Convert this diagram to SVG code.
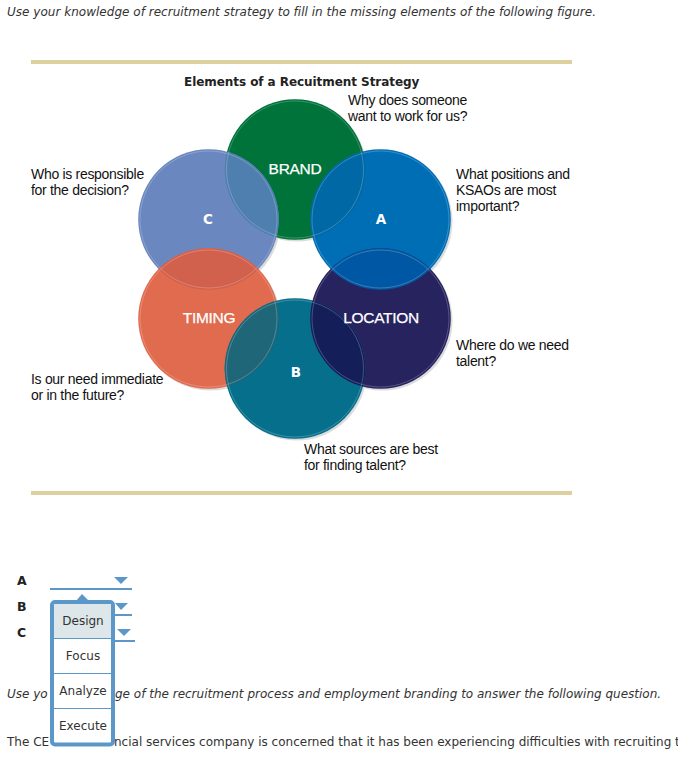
<svg xmlns="http://www.w3.org/2000/svg" width="678" height="759" viewBox="0 0 678 759">
<style>
.v{font-family:"DejaVu Sans",Verdana,sans-serif;font-size:12px;fill:#333}
.i{font-style:italic}
.q{font-family:"Liberation Sans",Arial,sans-serif;font-size:14px;fill:#111;letter-spacing:-.3px}
.n{font-family:"Liberation Sans",Arial,sans-serif;font-size:15.500px;fill:#fff;text-anchor:middle;letter-spacing:-.3px;stroke:#fff;stroke-width:.25px}
.l{font-family:"DejaVu Sans",Verdana,sans-serif;font-size:13.500px;font-weight:bold;fill:#fff;text-anchor:middle}
.k{font-family:"DejaVu Sans",Verdana,sans-serif;font-size:12.500px;font-weight:bold;fill:#222}
.h{font-family:"DejaVu Sans",Verdana,sans-serif;font-size:12px;font-weight:bold;fill:#222;letter-spacing:-.06px}
.o{font-family:"DejaVu Sans",Verdana,sans-serif;font-size:12px;fill:#333;text-anchor:middle}
.s{fill:#dcdcdc}
.e{fill:none;stroke:#fff;stroke-opacity:.22;stroke-width:1}
.r{fill:#ddd09f}
.d{stroke:#5b98c9;stroke-width:2;fill:none}
.t{fill:#5b98c9}
</style>
<defs>
<clipPath id="cb"><circle cx="295" cy="169.500" r="70.300"/></clipPath>
<clipPath id="cc"><circle cx="208.500" cy="219.500" r="70.300"/></clipPath>
<clipPath id="ca"><circle cx="380.500" cy="219.500" r="70.300"/></clipPath>
<clipPath id="ct"><circle cx="208.500" cy="318.500" r="70.300"/></clipPath>
<clipPath id="cl"><circle cx="380.500" cy="318.500" r="70.300"/></clipPath>
</defs>
<text class="v i" x="7" y="16" letter-spacing=".02">Use your knowledge of recruitment strategy to fill in the missing elements of the following figure.</text>
<rect class="r" x="31" y="60" width="541" height="4"/>
<rect class="r" x="31" y="491" width="541" height="4"/>
<text class="h" x="184" y="86">Elements of a Recuitment Strategy</text>

<g id="shadows">
<circle class="s" cx="297" cy="171.500" r="70"/><circle class="s" cx="210.500" cy="221.500" r="70"/><circle class="s" cx="382.500" cy="221.500" r="70"/>
<circle class="s" cx="210.500" cy="320.500" r="70"/><circle class="s" cx="382.500" cy="320.500" r="70"/><circle class="s" cx="297" cy="370.500" r="70"/>
</g>
<g id="node-brand"><circle cx="295" cy="169.500" r="70.300" fill="#00733a"/></g>
<g id="node-c"><circle cx="208.500" cy="219.500" r="70.300" fill="#6b87c0"/></g>
<g id="node-a"><circle cx="380.500" cy="219.500" r="70.300" fill="#006eb5"/></g>
<g id="node-timing"><circle cx="208.500" cy="318.500" r="70.300" fill="#e06b4f"/></g>
<g id="node-location"><circle cx="380.500" cy="318.500" r="70.300" fill="#27235f"/></g>
<g id="node-b"><circle cx="295" cy="368.500" r="70.300" fill="#066f8c"/></g>
<g id="overlaps">
<circle cx="208.500" cy="219.500" r="70.300" fill="#4f7fae" clip-path="url(#cb)"/>
<circle cx="380.500" cy="219.500" r="70.300" fill="#0068a5" clip-path="url(#cb)"/>
<circle cx="208.500" cy="318.500" r="70.300" fill="#d1604c" clip-path="url(#cc)"/>
<circle cx="380.500" cy="318.500" r="70.300" fill="#0057a3" clip-path="url(#ca)"/>
<circle cx="295" cy="368.500" r="70.300" fill="#1f6678" clip-path="url(#ct)"/>
<circle cx="295" cy="368.500" r="70.300" fill="#141f5a" clip-path="url(#cl)"/>
</g>
<g id="rims">
<circle class="e" cx="295" cy="169.500" r="68.500"/><circle class="e" cx="208.500" cy="219.500" r="68.500"/><circle class="e" cx="380.500" cy="219.500" r="68.500"/>
<circle class="e" cx="208.500" cy="318.500" r="68.500"/><circle class="e" cx="380.500" cy="318.500" r="68.500"/><circle class="e" cx="295" cy="368.500" r="68.500"/>
</g>
<g id="node-labels">
<text class="n" x="295" y="174">BRAND</text>
<text class="l" x="208" y="224">C</text>
<text class="l" x="381" y="224">A</text>
<text class="n" x="209" y="323">TIMING</text>
<text class="n" x="381" y="323">LOCATION</text>
<text class="l" x="296" y="377">B</text>
</g>
<g id="questions">
<text class="q" x="348" y="104.500">Why does someone</text><text class="q" x="348" y="120.500">want to work for us?</text>
<text class="q" x="31" y="179">Who is responsible</text><text class="q" x="31" y="195">for the decision?</text>
<text class="q" x="456" y="179">What positions and</text><text class="q" x="456" y="195">KSAOs are most</text><text class="q" x="456" y="211">important?</text>
<text class="q" x="456" y="349.500">Where do we need</text><text class="q" x="456" y="365.500">talent?</text>
<text class="q" x="31" y="384">Is our need immediate</text><text class="q" x="31" y="400">or in the future?</text>
<text class="q" x="304" y="453.500">What sources are best</text><text class="q" x="304" y="469.500">for finding talent?</text>
</g>

<text class="k" x="17" y="585">A</text><text class="k" x="17" y="610.500">B</text><text class="k" x="17" y="636.500">C</text>
<g id="dropdown-lines">
<line class="d" x1="50" y1="589" x2="132" y2="589"/><polygon class="t" points="114,577 128,577 121,584"/>
<line class="d" x1="112" y1="615" x2="132" y2="615"/><polygon class="t" points="115,603 128,603 121,610"/>
<line class="d" x1="112" y1="641" x2="135" y2="641"/><polygon class="t" points="117,629 131,629 124,636"/>
</g>
<text class="v i" x="7" y="698">Use yo</text>
<text class="v i" x="115" y="698">ge of the recruitment process and employment branding to answer the following question.</text>
<text class="v" x="7" y="746">The CE</text>
<text class="v" x="114" y="746">ncial services company is concerned that it has been experiencing difficulties with recruiting t</text>
<g id="menu">
<polygon class="t" points="76,601 82,594 89,601"/>
<rect x="52" y="602" width="61" height="142.500" rx="3" fill="#fff" stroke="#5b98c9" stroke-width="4"/>
<rect x="54" y="604" width="57" height="34" fill="#dde6e8"/>
<g stroke="#5b98c9" stroke-width="1"><line x1="54" y1="638.500" x2="111" y2="638.500"/><line x1="54" y1="673.500" x2="111" y2="673.500"/><line x1="54" y1="708.500" x2="111" y2="708.500"/></g>
<text class="o" x="83" y="625">Design</text><text class="o" x="83" y="660">Focus</text><text class="o" x="83" y="695">Analyze</text><text class="o" x="83" y="730">Execute</text>
</g>
</svg>
